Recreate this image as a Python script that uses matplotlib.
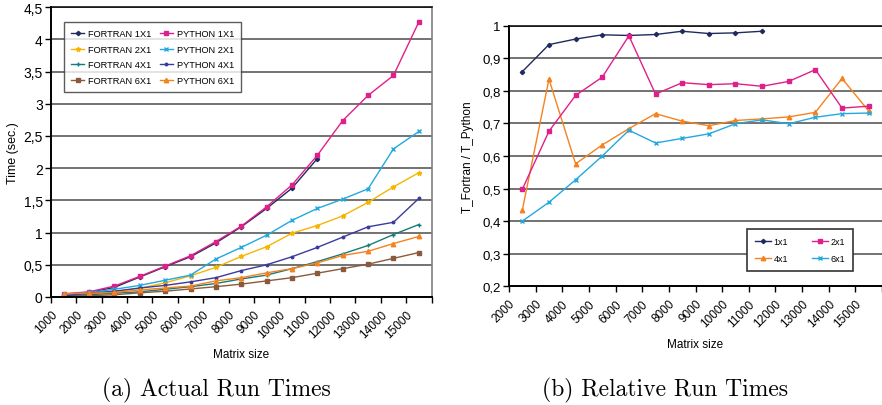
import matplotlib
matplotlib.use("Agg")
import matplotlib.pyplot as plt
import numpy as np

plt.rcParams['font.family'] = ['Liberation Sans', 'DejaVu Sans']

# ---------------- data ----------------
sizes_a = [1500, 2500, 3500, 4500, 5500, 6500, 7500, 8500, 9500, 10500,
           11500, 12500, 13500, 14500, 15500]
tick_labels_a = ['1000', '2000', '3000', '4000', '5000', '6000', '7000', '8000',
                 '9000', '10000', '11000', '12000', '13000', '14000', '15000', '']
fortran_1x1 = [0.02, 0.07, 0.15, 0.31, 0.47, 0.625, 0.84, 1.09, 1.375, 1.69, 2.15]
python_1x1 = [0.05, 0.08, 0.17, 0.32, 0.48, 0.64, 0.86, 1.10, 1.40, 1.74, 2.20,
              2.74, 3.13, 3.44, 4.27]
fortran_2x1 = [0.03, 0.05, 0.08, 0.135, 0.22, 0.33, 0.46, 0.63, 0.78, 0.99,
               1.11, 1.26, 1.47, 1.71, 1.93]
python_2x1 = [0.04, 0.07, 0.12, 0.18, 0.26, 0.34, 0.59, 0.77, 0.96, 1.19,
              1.375, 1.52, 1.68, 2.30, 2.57]
fortran_4x1 = [0.02, 0.035, 0.06, 0.08, 0.12, 0.16, 0.21, 0.28, 0.34, 0.44,
               0.55, 0.67, 0.80, 0.97, 1.125]
python_4x1 = [0.02, 0.06, 0.09, 0.14, 0.18, 0.235, 0.30, 0.41, 0.50, 0.625,
              0.77, 0.93, 1.09, 1.16, 1.53]
fortran_6x1 = [0.01, 0.02, 0.035, 0.065, 0.09, 0.125, 0.16, 0.20, 0.25, 0.30,
               0.37, 0.44, 0.51, 0.60, 0.69]
python_6x1 = [0.05, 0.06, 0.07, 0.11, 0.14, 0.17, 0.25, 0.30, 0.375, 0.44,
              0.53, 0.645, 0.71, 0.83, 0.94]

sizes_b = [2500, 3500, 4500, 5500, 6500, 7500, 8500, 9500, 10500, 11500,
           12500, 13500, 14500, 15500]
tick_labels_b = ['2000', '3000', '4000', '5000', '6000', '7000', '8000', '9000',
                 '10000', '11000', '12000', '13000', '14000', '15000', '']
ratio_1x1 = [0.859, 0.942, 0.959, 0.972, 0.970, 0.973, 0.983, 0.976, 0.978, 0.983]
ratio_2x1 = [0.498, 0.676, 0.786, 0.842, 0.969, 0.790, 0.825, 0.819, 0.822,
             0.814, 0.829, 0.865, 0.747, 0.753]
ratio_4x1 = [0.434, 0.836, 0.576, 0.634, 0.684, 0.730, 0.707, 0.693, 0.709,
             0.714, 0.720, 0.734, 0.838, 0.738]
ratio_6x1 = [0.400, 0.458, 0.527, 0.600, 0.679, 0.640, 0.654, 0.668, 0.699,
             0.711, 0.699, 0.719, 0.730, 0.732]

ylabels_a = ['0', '0,5', '1', '1,5', '2', '2,5', '3', '3,5', '4', '4,5']
ylabels_b = ['0,2', '0,3', '0,4', '0,5', '0,6', '0,7', '0,8', '0,9', '1']

# ---------------- colours ----------------
C_NAVY = '#1f2b5e'
C_MAG = '#e0208a'
C_GOLD = '#f7b500'
C_CYAN = '#22a9df'
C_TEAL = '#157b7b'
C_INDIGO = '#3b3b9c'
C_BROWN = '#8b5a3c'
C_ORANGE = '#f5821f'

fig = plt.figure(figsize=(8.82, 4.06), dpi=100)

def style_axes(ax, yticks, ylabels, xticks, xlabels, fs_y):
    ax.set_yticks(yticks)
    ax.set_yticklabels(ylabels, fontsize=fs_y)
    ax.set_xticks(xticks)
    ax.set_xticklabels(xlabels, fontsize=8.5, rotation=45, ha='right',
                       rotation_mode='anchor')
    ax.tick_params(axis='both', direction='out', length=4, width=1, color='black', pad=2)
    ax.tick_params(axis='x', pad=4)
    ax.grid(axis='y', color='#5a5a5a', linewidth=1.2)
    ax.set_axisbelow(True)
    for s in ['left', 'bottom']:
        ax.spines[s].set_color('black')
        ax.spines[s].set_linewidth(1.4)
    ax.spines['top'].set_color('black')
    ax.spines['top'].set_linewidth(1.1)

# ---------------- panel (a) ----------------
ax1 = fig.add_axes([51/882, 1-298/406, 380.5/882, 289.8/406])
n1 = len(fortran_1x1)
lw = 1.0
ax1.plot(sizes_a[:n1], fortran_1x1, color=C_NAVY, marker='D', ms=2.2, lw=lw, label='FORTRAN 1X1')
ax1.plot(sizes_a, fortran_2x1, color=C_GOLD, marker='*', ms=3.5, lw=lw, label='FORTRAN 2X1')
ax1.plot(sizes_a, fortran_4x1, color=C_TEAL, marker='+', ms=3.5, mew=1, lw=lw, label='FORTRAN 4X1')
ax1.plot(sizes_a, fortran_6x1, color=C_BROWN, marker='s', ms=3.2, lw=lw, label='FORTRAN 6X1')
ax1.plot(sizes_a, python_1x1, color=C_MAG, marker='s', ms=3.2, lw=lw, label='PYTHON 1X1')
ax1.plot(sizes_a, python_2x1, color=C_CYAN, marker='x', ms=3, mew=1, lw=lw, label='PYTHON 2X1')
ax1.plot(sizes_a, python_4x1, color=C_INDIGO, marker='o', ms=1.8, lw=lw, label='PYTHON 4X1')
ax1.plot(sizes_a, python_6x1, color=C_ORANGE, marker='^', ms=3.2, lw=lw, label='PYTHON 6X1')
ax1.set_xlim(1000, 16000)
ax1.set_ylim(0, 4.5)
style_axes(ax1, np.arange(0, 4.51, 0.5), ylabels_a, np.arange(1000, 16001, 1000),
           tick_labels_a, 10)
ax1.spines['right'].set_color('#808080')
ax1.spines['right'].set_linewidth(1.2)
ax1.set_ylabel('Time (sec.)', fontsize=9, labelpad=3)
ax1.set_xlabel('Matrix size', fontsize=8.5, labelpad=6)
leg1 = ax1.legend(ncol=2, loc='upper left', bbox_to_anchor=(0.034, 0.949),
                  borderaxespad=0, fontsize=6.7, frameon=True, fancybox=False,
                  edgecolor='#333333', handlelength=1.4, handletextpad=0.4,
                  columnspacing=0.9, labelspacing=0.7, borderpad=0.8)
leg1.get_frame().set_linewidth(1.0)

# ---------------- panel (b) ----------------
ax2 = fig.add_axes([509/882, 1-287.3/406, 373/882, 260.6/406])
n2 = len(ratio_1x1)
ax2.plot(sizes_b[:n2], ratio_1x1, color=C_NAVY, marker='D', ms=2.2, lw=lw, label='1x1')
ax2.plot(sizes_b, ratio_4x1, color=C_ORANGE, marker='^', ms=3.2, lw=lw, label='4x1')
ax2.plot(sizes_b, ratio_2x1, color=C_MAG, marker='s', ms=3.2, lw=lw, label='2x1')
ax2.plot(sizes_b, ratio_6x1, color=C_CYAN, marker='x', ms=3, mew=1, lw=lw, label='6x1')
ax2.set_xlim(2000, 16000)
ax2.set_ylim(0.2, 1.0)
style_axes(ax2, np.arange(0.2, 1.001, 0.1), ylabels_b, np.arange(2000, 16001, 1000),
           tick_labels_b, 9.5)
ax2.spines['right'].set_visible(False)
ax2.set_ylabel('T_Fortran / T_Python', fontsize=8.5, labelpad=6)
ax2.set_xlabel('Matrix size', fontsize=8.5, labelpad=6)
leg2 = ax2.legend(ncol=2, loc='upper left', bbox_to_anchor=(0.637, 0.22),
                  borderaxespad=0, fontsize=6.5, frameon=True, fancybox=False,
                  edgecolor='#333333', handlelength=1.8, handletextpad=0.3,
                  columnspacing=2.6, labelspacing=0.9, borderpad=0.9,
                  framealpha=1)
leg2.get_frame().set_linewidth(1.2)

# ---------------- captions ----------------
fig.text(216.7/882, 1-390/406, '(a) Actual Run Times', fontfamily='cmr10',
         fontsize=17, ha='center', va='center')
fig.text(665.5/882, 1-390/406, '(b) Relative Run Times', fontfamily='cmr10',
         fontsize=17, ha='center', va='center')

fig.savefig('out.png', dpi=100)
